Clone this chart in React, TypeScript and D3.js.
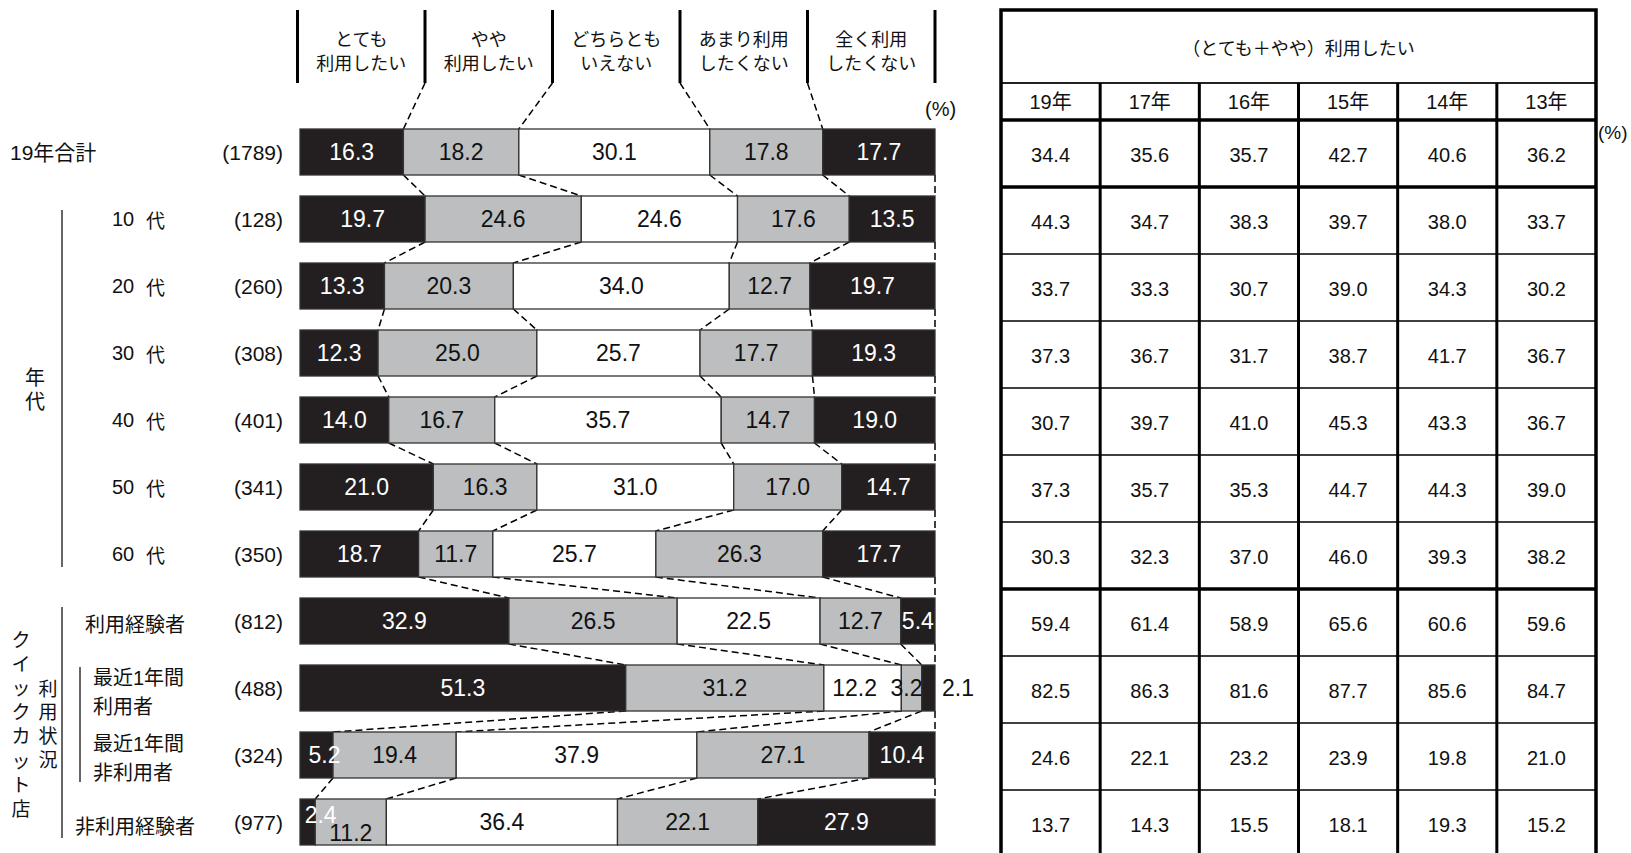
import React from 'react';
import * as d3 from 'd3';

// ---------- data ----------
const headerLine1 = ['とても', 'やや', 'どちらとも', 'あまり利用', '全く利用'];
const headerLine2 = ['利用したい', '利用したい', 'いえない', 'したくない', 'したくない'];
const seriesKeys = ['veryMuch', 'somewhat', 'neutral', 'notMuch', 'notAtAll'];

const rowKeys = ['total', 'a10', 'a20', 'a30', 'a40', 'a50', 'a60', 'exp', 'recentUser', 'recentNon', 'nonExp'];
const sampleSizes = [1789, 128, 260, 308, 401, 341, 350, 812, 488, 324, 977];

const veryMuch = [16.3, 19.7, 13.3, 12.3, 14.0, 21.0, 18.7, 32.9, 51.3, 5.2, 2.4];
const somewhat = [18.2, 24.6, 20.3, 25.0, 16.7, 16.3, 11.7, 26.5, 31.2, 19.4, 11.2];
const neutral = [30.1, 24.6, 34.0, 25.7, 35.7, 31.0, 25.7, 22.5, 12.2, 37.9, 36.4];
const notMuch = [17.8, 17.6, 12.7, 17.7, 14.7, 17.0, 26.3, 12.7, 3.2, 27.1, 22.1];
const notAtAll = [17.7, 13.5, 19.7, 19.3, 19.0, 14.7, 17.7, 5.4, 2.1, 10.4, 27.9];

const ageLabels = ['10', '20', '30', '40', '50', '60'];

const years = ['19年', '17年', '16年', '15年', '14年', '13年'];
const y19 = [34.4, 44.3, 33.7, 37.3, 30.7, 37.3, 30.3, 59.4, 82.5, 24.6, 13.7];
const y17 = [35.6, 34.7, 33.3, 36.7, 39.7, 35.7, 32.3, 61.4, 86.3, 22.1, 14.3];
const y16 = [35.7, 38.3, 30.7, 31.7, 41.0, 35.3, 37.0, 58.9, 81.6, 23.2, 15.5];
const y15 = [42.7, 39.7, 39.0, 38.7, 45.3, 44.7, 46.0, 65.6, 87.7, 23.9, 18.1];
const y14 = [40.6, 38.0, 34.3, 41.7, 43.3, 44.3, 39.3, 60.6, 85.6, 19.8, 19.3];
const y13 = [36.2, 33.7, 30.2, 36.7, 36.7, 39.0, 38.2, 59.6, 84.7, 21.0, 15.2];
const tableTitle = '（とても＋やや）利用したい';

// ---------- styles ----------
const DARK = '#231f20';
const GRAY = '#bcbec0';
const fills: Record<string, string> = {
  veryMuch: DARK, somewhat: GRAY, neutral: '#ffffff', notMuch: GRAY, notAtAll: DARK,
};
const FONT = "'Liberation Sans', Arial, 'Noto Sans CJK JP', sans-serif";
const JFONT = "'Noto Sans CJK JP', 'Liberation Sans', sans-serif";

// label placement tweaks for cramped segments
const labelTweaks: Record<string, { dx?: number; dy?: number; outside?: boolean }> = {
  'recentUser|notAtAll': { outside: true },
  'recentUser|notMuch': { dx: -5 },
  'recentUser|neutral': { dx: -8 },
  'recentNon|veryMuch': { dx: 8 },
  'nonExp|veryMuch': { dx: 13, dy: -7 },
  'nonExp|somewhat': { dy: 11 },
};

export default function App() {
  const W = 1631, H = 853;
  const table = rowKeys.map((k, i) => ({
    key: k,
    veryMuch: veryMuch[i], somewhat: somewhat[i], neutral: neutral[i],
    notMuch: notMuch[i], notAtAll: notAtAll[i],
  }));
  const stacked = d3.stack<any>().keys(seriesKeys).offset(d3.stackOffsetExpand)(table);

  const x = d3.scaleLinear().domain([0, 1]).range([300, 935]);
  const row = d3.scaleBand<string>().domain(rowKeys).range([120, 120 + 67 * rowKeys.length]);
  const barH = 46;
  const barTop = (k: string) => (row(k) as number) + 9;
  const rowMid = (k: string) => barTop(k) + barH / 2;

  const headerX = d3.scaleLinear().domain([0, 5]).range([297.5, 935]);
  const col = d3.scaleBand<string>().domain(years).range([1001, 1596]);
  const yearCols = [y19, y17, y16, y15, y14, y13];

  const dash = '7,4';
  const connectors: JSX.Element[] = [];
  for (let j = 0; j < 4; j++) {
    connectors.push(
      <line key={`h${j}`} x1={headerX(j + 1)} y1={83} x2={x(stacked[j][0][1])} y2={barTop(rowKeys[0])}
        stroke="#000" strokeWidth={1.5} strokeDasharray={dash} />
    );
  }
  for (let i = 0; i < rowKeys.length - 1; i++) {
    const y1 = barTop(rowKeys[i]) + barH;
    const y2 = barTop(rowKeys[i + 1]);
    for (let j = 0; j < 4; j++) {
      connectors.push(
        <line key={`c${i}-${j}`} x1={x(stacked[j][i][1])} y1={y1} x2={x(stacked[j][i + 1][1])} y2={y2}
          stroke="#000" strokeWidth={1.5} strokeDasharray={dash} />
      );
    }
    connectors.push(
      <line key={`r${i}`} x1={x(1)} y1={y1} x2={x(1)} y2={y2} stroke="#000" strokeWidth={1.5} strokeDasharray={dash} />
    );
  }

  const vText = (chars: string, cx: number, y0: number, step: number, size: number, key: string) =>
    chars.split('').map((c, i) => (
      <text key={`${key}${i}`} x={cx} y={y0 + i * step} textAnchor="middle" dominantBaseline="central"
        fontFamily={JFONT} fontSize={size} fill="#111">{c}</text>
    ));

  const thinRows = new Set([2, 3, 4, 5, 6, 8, 9, 10]);

  return (
    <svg width={W} height={H} style={{ position: 'absolute', left: 0, top: 0, display: 'block', background: '#fff' }}>
      {/* header */}
      {d3.range(6).map(k => (
        <line key={`hl${k}`} x1={headerX(k)} x2={headerX(k)} y1={10} y2={83} stroke="#000" strokeWidth={3} />
      ))}
      {headerLine1.map((t, k) => (
        <g key={`ht${k}`}>
          <text x={headerX(k + 0.5)} y={38} textAnchor="middle" dominantBaseline="central" fontFamily={JFONT} fontSize={18} fill="#111">{t}</text>
          <text x={headerX(k + 0.5)} y={62} textAnchor="middle" dominantBaseline="central" fontFamily={JFONT} fontSize={18} fill="#111">{headerLine2[k]}</text>
        </g>
      ))}
      <text x={925} y={109} dominantBaseline="central" fontFamily={FONT} fontSize={20} fill="#111">(%)</text>

      {connectors}

      {/* bars */}
      {stacked.map((s, j) => (
        <g key={`s${j}`}>
          {s.map((d, i) => (
            <rect key={`b${i}`} x={x(d[0])} y={barTop(rowKeys[i])} width={x(d[1]) - x(d[0])} height={barH}
              fill={fills[s.key]} stroke="#333" strokeWidth={1.3} />
          ))}
        </g>
      ))}
      {stacked.map((s, j) => (
        <g key={`l${j}`}>
          {s.map((d, i) => {
            const rk = rowKeys[i];
            const tw = labelTweaks[`${rk}|${s.key}`] || {};
            const dark = fills[s.key] === DARK;
            const v = (table[i] as any)[s.key] as number;
            if (tw.outside) {
              return (
                <text key={`t${i}`} x={x(1) + 7} y={rowMid(rk)} dominantBaseline="central" fontFamily={FONT}
                  fontSize={23} fill="#111">{v.toFixed(1)}</text>
              );
            }
            return (
              <text key={`t${i}`} x={(x(d[0]) + x(d[1])) / 2 + (tw.dx || 0)} y={rowMid(rk) + (tw.dy || 0)}
                textAnchor="middle" dominantBaseline="central" fontFamily={FONT} fontSize={23}
                fill={dark ? '#fff' : '#111'}>{v.toFixed(1)}</text>
            );
          })}
        </g>
      ))}

      {/* left labels */}
      <text x={10} y={rowMid('total')} dominantBaseline="central" fontFamily={FONT} fontSize={21} fill="#111">19年合計</text>
      {sampleSizes.map((n, i) => (
        <text key={`n${i}`} x={283} y={rowMid(rowKeys[i])} textAnchor="end" dominantBaseline="central"
          fontFamily={FONT} fontSize={21} fill="#111">({n})</text>
      ))}
      {ageLabels.map((a, i) => (
        <g key={`a${i}`}>
          <text x={112} y={rowMid(rowKeys[i + 1])} dominantBaseline="central" fontFamily={FONT} fontSize={20} fill="#111">{a}</text>
          <text x={146} y={rowMid(rowKeys[i + 1])} dominantBaseline="central" fontFamily={JFONT} fontSize={19} fill="#111">代</text>
        </g>
      ))}
      <line x1={62} x2={62} y1={210} y2={567} stroke="#333" strokeWidth={1.5} />
      {vText('年代', 35, 376, 24, 20, 'nd')}

      <line x1={62} x2={62} y1={607} y2={838} stroke="#333" strokeWidth={1.5} />
      <line x1={80} x2={80} y1={667} y2={782} stroke="#333" strokeWidth={1.5} />
      {vText('クイックカット店', 21, 638, 24.2, 19, 'qc')}
      {vText('利用状況', 48, 687, 23.7, 19, 'rj')}
      <text x={85} y={rowMid('exp') + 2} dominantBaseline="central" fontFamily={JFONT} fontSize={20} fill="#111">利用経験者</text>
      <text x={93} y={rowMid('recentUser') - 10} dominantBaseline="central" fontFamily={FONT} fontSize={20} fill="#111">最近1年間</text>
      <text x={93} y={rowMid('recentUser') + 17} dominantBaseline="central" fontFamily={JFONT} fontSize={20} fill="#111">利用者</text>
      <text x={93} y={rowMid('recentNon') - 11} dominantBaseline="central" fontFamily={FONT} fontSize={20} fill="#111">最近1年間</text>
      <text x={93} y={rowMid('recentNon') + 16} dominantBaseline="central" fontFamily={JFONT} fontSize={20} fill="#111">非利用者</text>
      <text x={75} y={rowMid('nonExp') + 3} dominantBaseline="central" fontFamily={JFONT} fontSize={20} fill="#111">非利用経験者</text>

      {/* table */}
      <text x={(1001 + 1596) / 2} y={47} textAnchor="middle" dominantBaseline="central" fontFamily={JFONT} fontSize={18} fill="#111">{tableTitle}</text>
      {years.map(yr => (
        <text key={yr} x={(col(yr) as number) + col.bandwidth() / 2} y={102} textAnchor="middle" dominantBaseline="central"
          fontFamily={FONT} fontSize={20} fill="#111">{yr}</text>
      ))}
      {yearCols.map((vals, c) => (
        <g key={`tc${c}`}>
          {vals.map((v, i) => (
            <text key={`tv${i}`} x={(col(years[c]) as number) + col.bandwidth() / 2} y={(row(rowKeys[i]) as number) + row.bandwidth() / 2 + 1}
              textAnchor="middle" dominantBaseline="central" fontFamily={FONT} fontSize={20} fill="#111">{v.toFixed(1)}</text>
          ))}
        </g>
      ))}
      {rowKeys.map((k, i) => i > 0 && (
        <line key={`rl${i}`} x1={1001} x2={1596} y1={row(k)} y2={row(k)} stroke="#000" strokeWidth={thinRows.has(i) ? 1.5 : 3.5} />
      ))}
      <line x1={1001} x2={1596} y1={83} y2={83} stroke="#222" strokeWidth={2} />
      <line x1={1001} x2={1596} y1={120} y2={120} stroke="#000" strokeWidth={3.5} />
      {years.slice(1).map(yr => (
        <line key={`cl${yr}`} x1={col(yr)} x2={col(yr)} y1={83} y2={860} stroke="#000" strokeWidth={3} />
      ))}
      <rect x={1001} y={10} width={595} height={850} fill="none" stroke="#000" strokeWidth={3.5} />
      <text x={1598} y={132} dominantBaseline="central" fontFamily={FONT} fontSize={19} fill="#111">(%)</text>
    </svg>
  );
}
